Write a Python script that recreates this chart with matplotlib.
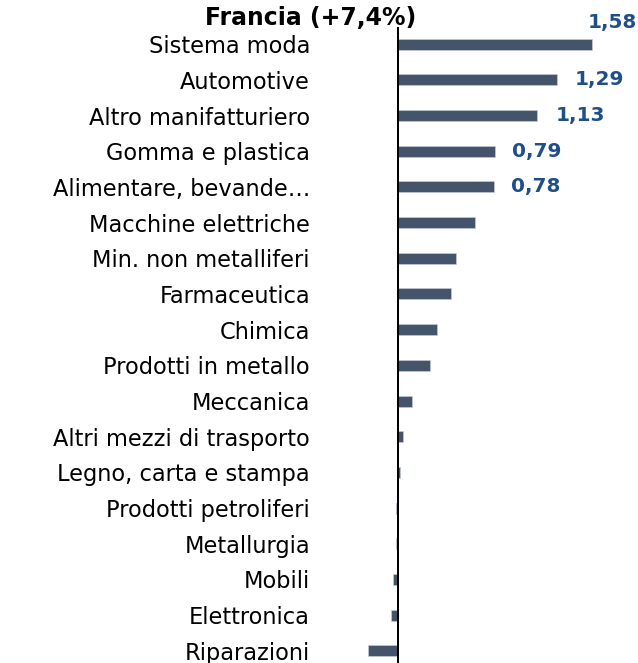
import numpy as np
from matplotlib import pyplot as plt

settori = ['Sistema moda', 'Automotive', 'Altro manifatturiero', 'Gomma e plastica',
           'Alimentare, bevande…', 'Macchine elettriche', 'Min. non metalliferi',
           'Farmaceutica', 'Chimica', 'Prodotti in metallo', 'Meccanica',
           'Altri mezzi di trasporto', 'Legno, carta e stampa', 'Prodotti petroliferi',
           'Metallurgia', 'Mobili', 'Elettronica', 'Riparazioni']
valori = [1.58, 1.29, 1.13, 0.79, 0.78, 0.63, 0.47, 0.43, 0.32, 0.26, 0.11,
          0.04, 0.015, -0.015, -0.02, -0.04, -0.055, -0.24]
# etichette mostrate solo per i primi cinque
etichette = ['1,58', '1,29', '1,13', '0,79', '0,78']
spost = [(-5, 22), (18, 0), (19, 0), (17, 0), (17, 0)]  # spostamento etichette in px

fig = plt.figure(figsize=(638/72, 663/72), dpi=72)
ax = fig.add_axes([340/638, 0, 290/638, 1 - 27/663])

y = np.arange(len(settori))
ax.barh(y, valori, height=0.31, color='#44546A', edgecolor='#c9cfd8', linewidth=0.6)
ax.axvline(0, color='black', lw=2)

for i, t in enumerate(etichette):
    ax.annotate(t, (valori[i], y[i]), xytext=spost[i], textcoords='offset points',
                ha='left', va='center', fontsize=20, fontweight='bold', color='#1F4E89')

ax.set_xlim(-0.4715, 1.886)
ax.set_ylim(17.34, -0.48)
ax.set_yticks(y)
ax.set_yticklabels(settori, fontsize=22.5)
ax.tick_params(axis='y', length=0, pad=30)
ax.set_xticks([])
for s in ax.spines.values():
    s.set_visible(False)

fig.text(311/638, 1 - 18/663, 'Francia (+7,4%)', ha='center', va='center',
         fontsize=23.5, fontweight='bold')

fig.savefig('out.png', dpi=72)
